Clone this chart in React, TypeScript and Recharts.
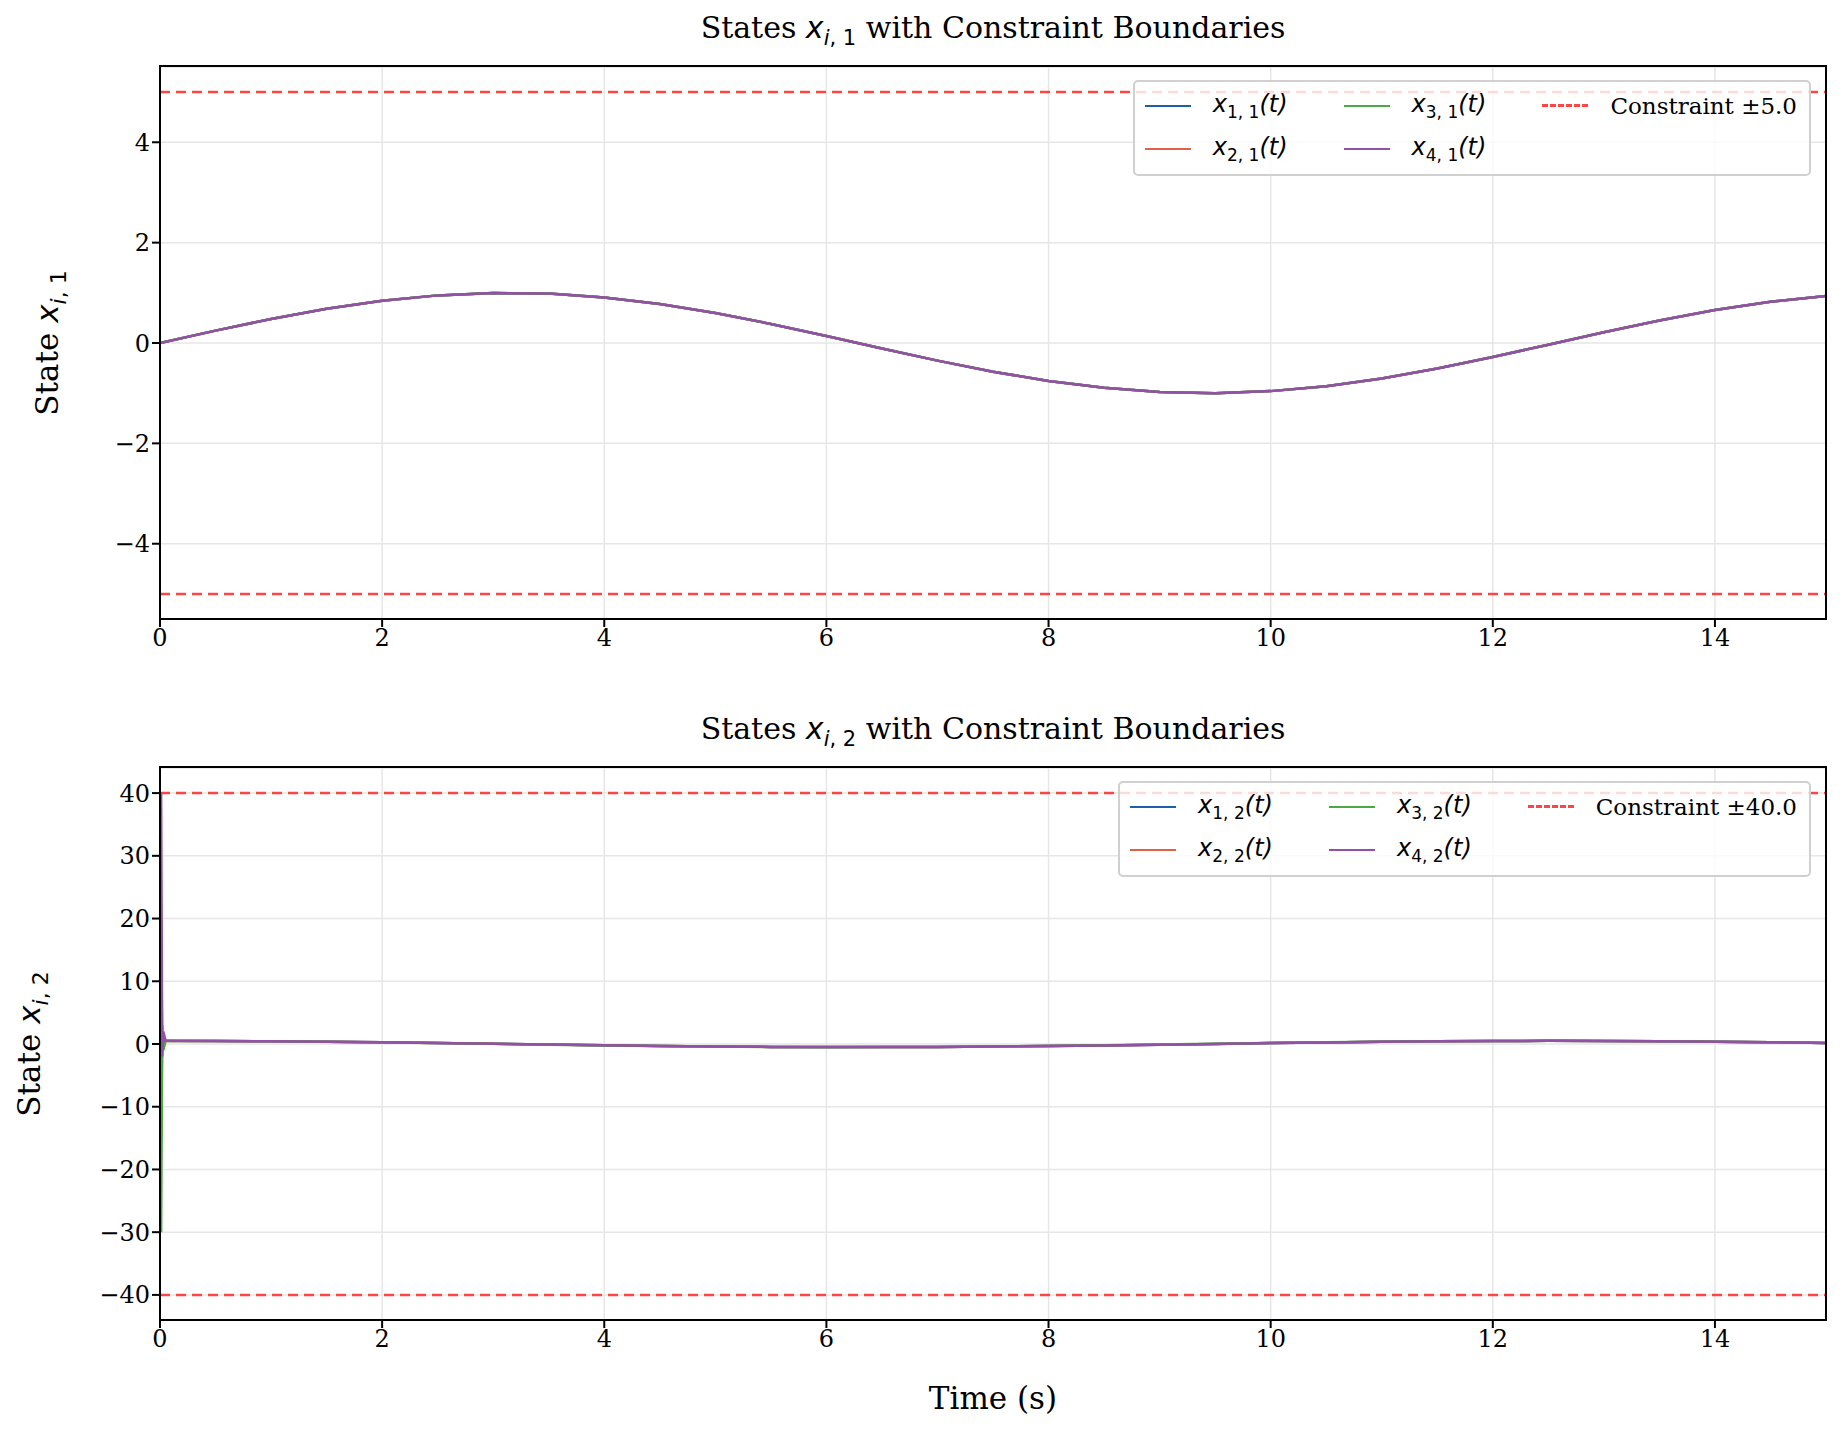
import React from 'react';
import { LineChart, Line, XAxis, YAxis, CartesianGrid, ReferenceLine } from 'recharts';

const timeTop = [0,0.5,1,1.5,2,2.5,3,3.5,4,4.5,5,5.5,6,6.5,7,7.5,8,8.5,9,9.5,10,10.5,11,11.5,12,12.5,13,13.5,14,14.5,15];
const x1Base = [0,0.247,0.479,0.682,0.841,0.949,0.997,0.984,0.909,0.778,0.598,0.380,0.141,-0.108,-0.351,-0.572,-0.757,-0.894,-0.978,-0.999,-0.959,-0.863,-0.706,-0.510,-0.279,-0.033,0.215,0.450,0.657,0.823,0.938];
const timeBottom = [0,0.01,0.02,0.03,0.05,0.5,1,1.5,2,2.5,3,3.5,4,4.5,5,5.5,6,6.5,7,7.5,8,8.5,9,9.5,10,10.5,11,11.5,12,12.5,13,13.5,14,14.5,15];
const x12 = [0,20,-1,1,0.5,0.485,0.439,0.366,0.270,0.158,0.035,-0.088,-0.208,-0.314,-0.401,-0.463,-0.495,-0.497,-0.468,-0.410,-0.327,-0.224,-0.106,0.017,0.142,0.254,0.354,0.430,0.480,0.500,0.488,0.446,0.377,0.285,0.174];
const x22 = [0,-15,1,0,0.5,0.485,0.439,0.366,0.270,0.158,0.035,-0.088,-0.208,-0.314,-0.401,-0.463,-0.495,-0.497,-0.468,-0.410,-0.327,-0.224,-0.106,0.017,0.142,0.254,0.354,0.430,0.480,0.500,0.488,0.446,0.377,0.285,0.174];
const x32 = [0,-30,3,-1,0.5,0.48,0.43,0.35,0.25,0.14,0.02,-0.10,-0.22,-0.33,-0.41,-0.47,-0.50,-0.49,-0.46,-0.40,-0.31,-0.21,-0.09,0.03,0.15,0.26,0.36,0.43,0.48,0.50,0.48,0.44,0.37,0.28,0.17];
const x42 = [0,40,-2,2,0.5,0.485,0.439,0.366,0.270,0.158,0.035,-0.088,-0.208,-0.314,-0.401,-0.463,-0.495,-0.497,-0.468,-0.410,-0.327,-0.224,-0.106,0.017,0.142,0.254,0.354,0.430,0.480,0.500,0.488,0.446,0.377,0.285,0.174];
const xTicks = [0,2,4,6,8,10,12,14];
const topTicks = [-4,-2,0,2,4];
const bottomTicks = [-40,-30,-20,-10,0,10,20,30,40];
const colors = ['#1f5fa8','#e0604a','#4aaa44','#9350a8'];

const topData = timeTop.map((t, i) => ({ t, a: x1Base[i], b: x1Base[i], c: x1Base[i], d: x1Base[i] }));
const bottomData = timeBottom.map((t, i) => ({ t, a: x12[i], b: x22[i], c: x32[i], d: x42[i] }));

const serif = '"DejaVu Serif", serif';
const sans = '"DejaVu Sans", sans-serif';

const Sym = ({ i, j }: { i: number; j: number }) => (
  <span style={{ fontFamily: sans, fontStyle: 'italic', fontSize: 24 }}>
    x<sub style={{ fontSize: 17, fontStyle: 'normal' }}>{i},{' '}{j}</sub>(<i>t</i>)
  </span>
);

const LegendBox = ({ j, c }: { j: number; c: string }) => {
  const item = (k: number) => (
    <div style={{ display: 'flex', alignItems: 'center', height: 43 }}>
      <div style={{ width: 46, height: 0, borderTop: `2.5px solid ${colors[k - 1]}`, marginRight: 22 }} />
      <Sym i={k} j={j} />
    </div>
  );
  return (
    <div style={{ background: 'rgba(255,255,255,0.8)', border: '2px solid #d0d0d0', borderRadius: 5, padding: '2px 12px 4px 10px', display: 'grid', gridTemplateColumns: 'auto auto auto', columnGap: 56 }}>
      {item(1)}{item(3)}
      <div style={{ display: 'flex', alignItems: 'center', height: 43 }}>
        <div style={{ width: 46, height: 0, borderTop: '3px dashed #ff4444', marginRight: 22 }} />
        <span style={{ fontFamily: serif, fontSize: 23 }}>Constraint ±{c}</span>
      </div>
      {item(2)}{item(4)}
    </div>
  );
};

const Panel = ({ data, domain, ticks, lim, j, c, top }: any) => (
  <div style={{ position: 'absolute', left: 0, top, width: 1843, height: 700 }}>
    <LineChart width={1843} height={700} data={data} margin={{ top: 67, right: 17, left: 0, bottom: 41 }}>
      <CartesianGrid stroke="#e6e6e6" strokeWidth={1.5} />
      <XAxis dataKey="t" type="number" domain={[0, 15]} ticks={xTicks} allowDataOverflow height={40}
        tick={{ fontFamily: serif, fontSize: 24, fill: '#000' }} tickSize={8} stroke="#000" strokeWidth={2} />
      <YAxis type="number" domain={domain} ticks={ticks} allowDataOverflow width={160}
        tick={{ fontFamily: serif, fontSize: 24, fill: '#000' }} tickSize={8} stroke="#000" strokeWidth={2}
        tickFormatter={(v: number) => (v < 0 ? '\u2212' + Math.abs(v) : String(v))} />
      <ReferenceLine y={lim} stroke="#ff4444" strokeWidth={2.5} strokeDasharray="10 6" />
      <ReferenceLine y={-lim} stroke="#ff4444" strokeWidth={2.5} strokeDasharray="10 6" />
      {['a', 'b', 'c', 'd'].map((k, i) => (
        <Line key={k} dataKey={k} stroke={colors[i]} strokeWidth={2.5} dot={false} isAnimationActive={false} />
      ))}
    </LineChart>
    <svg style={{ position: 'absolute', left: 160, top: 66, overflow: 'visible' }} width={1666} height={553}>
      <rect x={0} y={0} width={1666} height={553} fill="none" stroke="#000" strokeWidth={2} />
    </svg>
    <div style={{ position: 'absolute', right: 32, top: 80 }}>
      <LegendBox j={j} c={c} />
    </div>
    <div style={{ position: 'absolute', left: 160, width: 1666, textAlign: 'center', top: 10, fontFamily: serif, fontSize: 30 }}>
      States <span style={{ fontFamily: sans, fontStyle: 'italic' }}>x<sub style={{ fontSize: 21, fontStyle: 'normal' }}><i>i</i>, {j}</sub></span> with Constraint Boundaries
    </div>
    <div style={{ position: 'absolute', left: j === 1 ? 50 : 32, top: 343, transform: 'translate(-50%,-50%) rotate(-90deg)', whiteSpace: 'nowrap', fontFamily: serif, fontSize: 31 }}>
      State <span style={{ fontFamily: sans, fontStyle: 'italic' }}>x<sub style={{ fontSize: 22, fontStyle: 'normal' }}><i>i</i>, {j}</sub></span>
    </div>
  </div>
);

export default function App() {
  return (
    <div style={{ position: 'absolute', left: 0, top: 0, width: 1843, height: 1439, background: '#fff' }}>
      <Panel data={topData} domain={[-5.5, 5.5]} ticks={topTicks} lim={5} j={1} c="5.0" top={0} />
      <Panel data={bottomData} domain={[-44, 44]} ticks={bottomTicks} lim={40} j={2} c="40.0" top={701} />
      <div style={{ position: 'absolute', left: 160, width: 1666, top: 1380, textAlign: 'center', fontFamily: serif, fontSize: 31 }}>Time (s)</div>
    </div>
  );
}
